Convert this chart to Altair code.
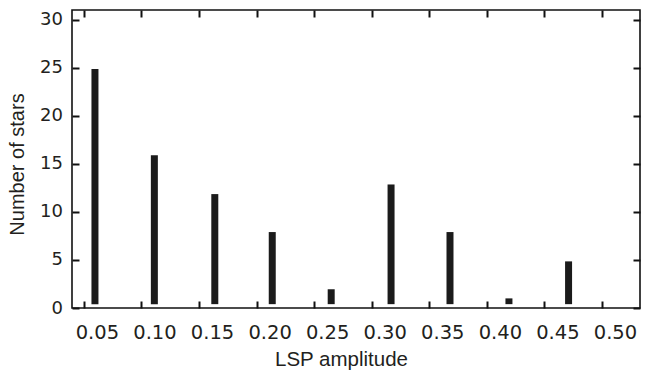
import altair as alt
import pandas as pd

amplitude = [0.0596, 0.1112, 0.1637, 0.2136, 0.2648, 0.3168, 0.3680, 0.4192, 0.4710]
stars = [24.85, 15.9, 11.85, 7.9, 1.95, 12.85, 7.9, 1.0, 4.85]
x_ticks = [0.05, 0.10, 0.15, 0.20, 0.25, 0.30, 0.35, 0.40, 0.45, 0.50]
y_ticks = [0, 5, 10, 15, 20, 25, 30]

df = pd.DataFrame({"amp": amplitude, "n": stars})

TXT = "#231f20"
FONT = "Liberation Sans"
LFONT = "DejaVu Sans"

xscale = alt.Scale(domain=[0.0440, 0.5287], nice=False, zero=False)
yscale = alt.Scale(domain=[0, 31], nice=False)

tick_style = dict(domain=False, grid=False, tickSize=7, tickWidth=2,
                  tickColor="#111111", offset=-7)

bars = alt.Chart(df).mark_bar(color="#1b1b1b", width=7).encode(
    x=alt.X("amp:Q", scale=xscale,
            axis=alt.Axis(orient="bottom", values=x_ticks, format=".2f", title="LSP amplitude",
                          labelFont=LFONT, labelFontSize=19.5, labelColor=TXT,
                          labelPadding=15, labelOffset=13, labelFlush=False,
                          titleFont=FONT, titleFontSize=20.5, titleColor=TXT,
                          titleFontWeight="normal", titlePadding=8, titleX=269,
                          **tick_style)),
    y=alt.Y("n:Q", scale=yscale,
            axis=alt.Axis(orient="left", values=y_ticks, format="d", title="Number of stars",
                          labelFont=LFONT, labelFontSize=18, labelColor=TXT,
                          labelPadding=9.5, labelFlush=False,
                          titleFont=FONT, titleFontSize=20, titleColor=TXT,
                          titleFontWeight="normal", titlePadding=12, titleY=154,
                          **tick_style)),
    y2=alt.datum(0.4),
)

frame_axes = alt.Chart(df).mark_point(opacity=0).encode(
    x=alt.X("amp:Q", scale=xscale,
            axis=alt.Axis(orient="top", values=x_ticks, labels=False, title=None, **tick_style)),
    y=alt.Y("n:Q", scale=yscale,
            axis=alt.Axis(orient="right", values=y_ticks, labels=False, title=None, **tick_style)),
)

chart = alt.layer(bars, frame_axes).resolve_axis(
    x="independent", y="independent"
).properties(
    width=568, height=298,
    background="white",
    autosize=alt.AutoSizeParams(type="none"),
    padding={"left": 72, "top": 10, "right": 11, "bottom": 67},
).configure_view(stroke="#111111", strokeWidth=1.6)

chart.save("out.html", embed_options={"renderer": "svg", "actions": False})
